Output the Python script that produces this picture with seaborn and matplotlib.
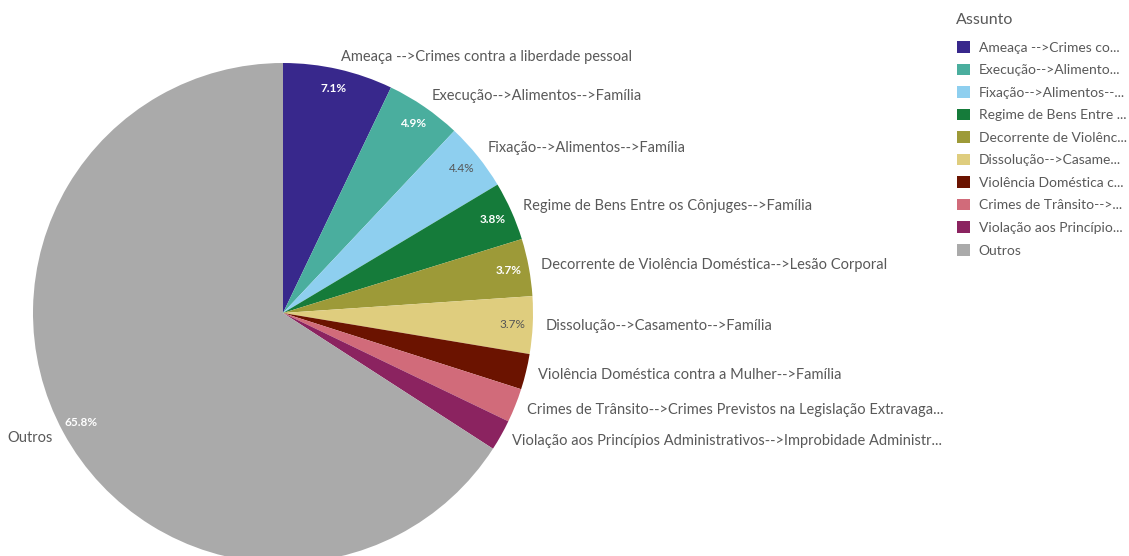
import matplotlib
matplotlib.use("Agg")
import matplotlib.pyplot as plt
import seaborn as sns
from matplotlib.patches import Patch

categories = [
    "Ameaça -->Crimes contra a liberdade pessoal",
    "Execução-->Alimentos-->Família",
    "Fixação-->Alimentos-->Família",
    "Regime de Bens Entre os Cônjuges-->Família",
    "Decorrente de Violência Doméstica-->Lesão Corporal",
    "Dissolução-->Casamento-->Família",
    "Violência Doméstica contra a Mulher-->Família",
    "Crimes de Trânsito-->Crimes Previstos na Legislação Extravaga...",
    "Violação aos Princípios Administrativos-->Improbidade Administr...",
    "Outros",
]
legend_labels = [
    "Ameaça -->Crimes co...",
    "Execução-->Alimento...",
    "Fixação-->Alimentos--...",
    "Regime de Bens Entre ...",
    "Decorrente de Violênc...",
    "Dissolução-->Casame...",
    "Violência Doméstica c...",
    "Crimes de Trânsito-->...",
    "Violação aos Princípio...",
    "Outros",
]
legend_title = "Assunto"
values = [7.1, 4.9, 4.4, 3.8, 3.7, 3.7, 2.3, 2.2, 2.0, 65.8]
pct_labels = ["7.1%", "4.9%", "4.4%", "3.8%", "3.7%", "3.7%", "", "", "", "65.8%"]
colors = ["#38288c", "#4aae9e", "#8ecfef", "#157b3a", "#9d9a38",
          "#dfcd7e", "#6b1300", "#d16b7a", "#8b2360", "#aaaaaa"]
pct_text_colors = ["white", "white", "#555555", "white", "white",
                   "#555555", "white", "white", "white", "white"]

sns.set_theme(style="white")
plt.rcParams['font.family'] = ['Lato', 'DejaVu Sans']

W, H = 1129, 556
fig = plt.figure(figsize=(W / 100, H / 100), dpi=100)
cx, cy, R = 283, 313, 250
ax = fig.add_axes([(cx - R) / W, (H - cy - R) / H, 2 * R / W, 2 * R / H])

palette = sns.color_palette(colors)
wedges, texts, autotexts = ax.pie(
    values, labels=categories, colors=palette, startangle=90,
    counterclock=False, labeldistance=1.05, pctdistance=0.92,
    autopct="%1.1f%%", wedgeprops=dict(linewidth=0),
    textprops=dict(fontsize=10.5, color="#595959"))
for t, lab, c in zip(autotexts, pct_labels, pct_text_colors):
    t.set_text(lab)
    t.set_color(c)
    t.set_fontsize(8.5)
    if c == "white":
        t.set_fontweight("bold")
ax.set_xlim(-1, 1)
ax.set_ylim(-1, 1)
ax.set_aspect("auto")
ax.axis("off")

fig.text(956 / W, 1 - 20 / H, legend_title, fontsize=11.5, color="#595959",
         ha="left", va="center")
handles = [Patch(facecolor=c, edgecolor="none") for c in palette]
leg = fig.legend(handles, legend_labels, loc="upper left",
                 bbox_to_anchor=(957 / W, 1 - 41 / H), frameon=False,
                 borderpad=0, borderaxespad=0,
                 fontsize=10, handlelength=0.9,
                 handleheight=0.9, handletextpad=0.65, labelspacing=0.72)
for t in leg.get_texts():
    t.set_color("#595959")

fig.savefig("out.png", dpi=100)
